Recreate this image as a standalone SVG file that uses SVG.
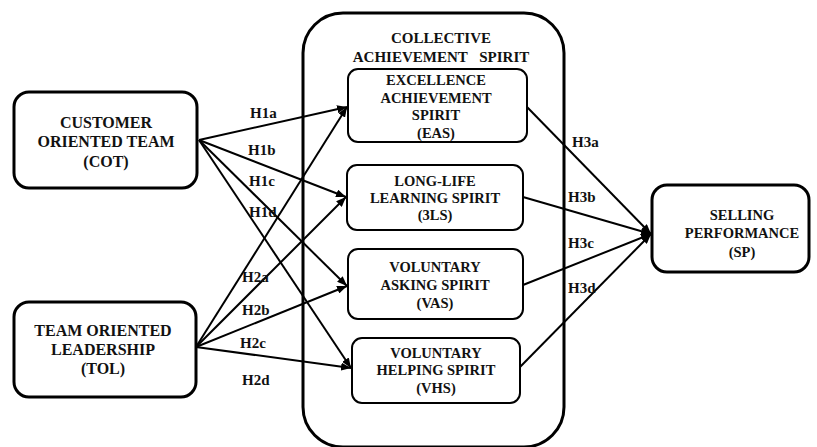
<svg xmlns="http://www.w3.org/2000/svg" width="817" height="447" viewBox="0 0 817 447">
<defs>
<style>
.outer{fill:#fff;stroke:#000;stroke-width:3}
.inner{fill:#fff;stroke:#000;stroke-width:2}
.cont{fill:none;stroke:#000;stroke-width:3}
text{font-family:"Liberation Serif",serif;font-weight:bold;fill:#111}
.t{text-anchor:middle}
.big{font-size:16px}
.mid{font-size:14.5px}
.lab text{font-size:15px}
.c line{stroke:#000;stroke-width:2;marker-end:url(#ah)}
</style>
<marker id="ah" markerUnits="userSpaceOnUse" markerWidth="11" markerHeight="8" refX="10" refY="4" orient="auto">
<path d="M0,0 L10,4 L0,8 z" fill="#000"/>
</marker>
</defs>
<rect width="817" height="447" fill="#fff"/>
<g id="CAS">
<rect class="cont" x="303" y="13" width="261" height="434" rx="40"/>
<text class="t" font-size="15" x="441" y="43">COLLECTIVE</text>
<text class="t" font-size="15" word-spacing="8" x="441" y="62">ACHIEVEMENT SPIRIT</text>
</g>
<g class="c" id="connectors">
<line x1="199" y1="140" x2="347" y2="107"/>
<line x1="199" y1="140" x2="346" y2="197"/>
<line x1="199" y1="140" x2="347" y2="286"/>
<line x1="199" y1="140" x2="351" y2="368"/>
<line x1="196" y1="347" x2="347" y2="107"/>
<line x1="196" y1="347" x2="346" y2="197"/>
<line x1="196" y1="347" x2="347" y2="286"/>
<line x1="196" y1="347" x2="351" y2="368"/>
<line x1="527" y1="107" x2="651" y2="234"/>
<line x1="523" y1="197" x2="651" y2="234"/>
<line x1="523" y1="285" x2="651" y2="234"/>
<line x1="520" y1="367" x2="651" y2="234"/>
<g class="lab">
<text x="250" y="118">H1a</text>
<text x="248" y="155">H1b</text>
<text x="249" y="186">H1c</text>
<text x="249" y="217">H1d</text>
<text x="242" y="282">H2a</text>
<text x="242" y="315">H2b</text>
<text x="240" y="348">H2c</text>
<text x="242" y="385">H2d</text>
<text x="572" y="147">H3a</text>
<text x="568" y="202">H3b</text>
<text x="568" y="248">H3c</text>
<text x="568" y="293">H3d</text>
</g>
</g>
<g id="COT">
<rect class="outer" x="14" y="92" width="183" height="96" rx="15"/>
<text class="t big" x="106" y="128">CUSTOMER</text>
<text class="t big" x="106" y="147">ORIENTED TEAM</text>
<text class="t big" x="106" y="167">(COT)</text>
</g>
<g id="TOL">
<rect class="outer" x="14" y="302" width="182" height="95" rx="15"/>
<text class="t big" x="103" y="336">TEAM ORIENTED</text>
<text class="t big" x="103" y="355">LEADERSHIP</text>
<text class="t big" x="103" y="374">(TOL)</text>
</g>
<g id="EAS">
<rect class="inner" x="348" y="69" width="179" height="73" rx="10"/>
<text class="t mid" x="436" y="85">EXCELLENCE</text>
<text class="t mid" x="436" y="103">ACHIEVEMENT</text>
<text class="t mid" x="436" y="120">SPIRIT</text>
<text class="t mid" x="436" y="138">(EAS)</text>
</g>
<g id="LLS">
<rect class="inner" x="347" y="165" width="176" height="65" rx="10"/>
<text class="t mid" x="435" y="186">LONG-LIFE</text>
<text class="t mid" x="435" y="203">LEARNING SPIRIT</text>
<text class="t mid" x="435" y="220">(3LS)</text>
</g>
<g id="VAS">
<rect class="inner" x="348" y="249" width="175" height="70" rx="10"/>
<text class="t mid" x="435" y="272">VOLUNTARY</text>
<text class="t mid" x="435" y="290">ASKING SPIRIT</text>
<text class="t mid" x="435" y="308">(VAS)</text>
</g>
<g id="VHS">
<rect class="inner" x="352" y="338" width="168" height="65" rx="10"/>
<text class="t mid" x="436" y="358">VOLUNTARY</text>
<text class="t mid" x="436" y="375">HELPING SPIRIT</text>
<text class="t mid" x="436" y="393">(VHS)</text>
</g>
<g id="SP">
<rect class="outer" x="652" y="185" width="157" height="87" rx="15"/>
<text class="t mid" x="742" y="220">SELLING</text>
<text class="t mid" x="742" y="238">PERFORMANCE</text>
<text class="t mid" x="742" y="257">(SP)</text>
</g>
</svg>
